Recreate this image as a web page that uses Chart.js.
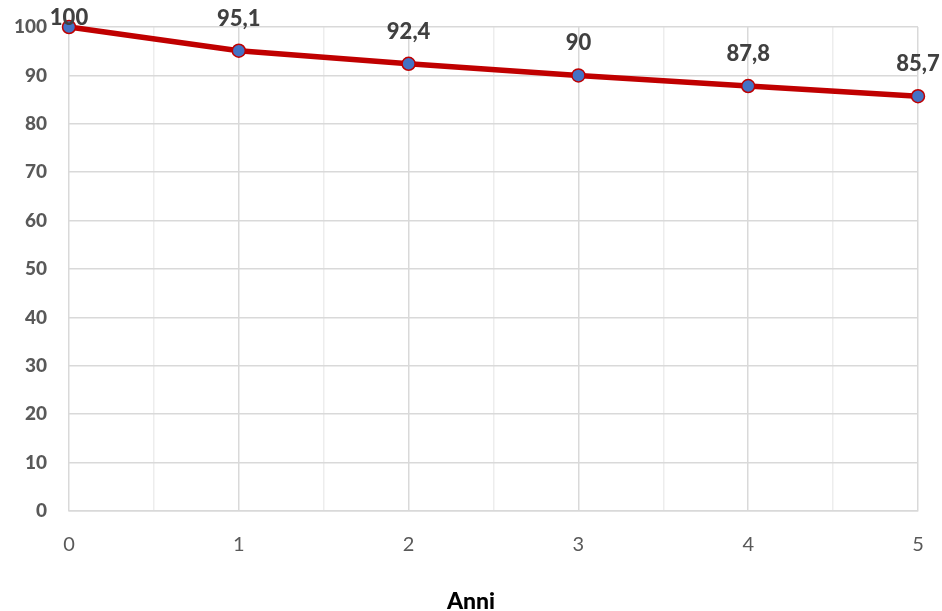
<!DOCTYPE html>
<html>
<head>
<meta charset="utf-8">
<script src="https://cdn.jsdelivr.net/npm/chart.js@4"></script>
<style>
    html, body { margin: 0; padding: 0; background: #fff; }
    #wrap { width: 942px; height: 611px; position: relative; }
</style>
</head>
<body>
<div id="wrap"><canvas id="chart"></canvas></div>
<script>
// values
const years = [0, 1, 2, 3, 4, 5];
const values = [100, 95.1, 92.4, 90, 87.8, 85.7];
const xTitle = 'Anni';

const FONT = 'Lato, "Open Sans", sans-serif';

// labels above points, Italian decimal comma
const pointLabels = {
    id: 'pointLabels',
    afterDatasetsDraw(chart) {
        const ctx = chart.ctx;
        const meta = chart.getDatasetMeta(0);
        ctx.save();
        ctx.font = '900 22px ' + FONT;
        ctx.fillStyle = '#404040';
        ctx.textAlign = 'center';
        ctx.textBaseline = 'middle';
        meta.data.forEach((pt, i) => {
            const txt = String(values[i]).replace('.', ',');
            ctx.fillText(txt, pt.x, Math.max(pt.y - 32, 18));
        });
        ctx.restore();
    }
};

// axis title centred on the whole canvas
const bottomTitle = {
    id: 'bottomTitle',
    afterDraw(chart) {
        const ctx = chart.ctx;
        ctx.save();
        ctx.font = '900 23px ' + FONT;
        ctx.fillStyle = '#000';
        ctx.textAlign = 'center';
        ctx.textBaseline = 'middle';
        ctx.fillText(xTitle, chart.width / 2, 602);
        ctx.restore();
    }
};

const ctx = document.getElementById('chart').getContext('2d');

const lineChart = new Chart(ctx, {
    type: 'line',
    data: {
        datasets: [{
            data: years.map((y, i) => ({ x: y, y: values[i] })),
            borderColor: '#c00000',
            borderWidth: 5.5,
            tension: 0,
            pointRadius: 6.5,
            pointBackgroundColor: '#4472c4',
            pointBorderColor: '#c00000',
            pointBorderWidth: 1.5,
            clip: false
        }]
    },
    options: {
        responsive: true,
        maintainAspectRatio: false,
        animation: false,
        layout: { padding: { left: 0, top: 27, right: 24, bottom: 0 } },
        plugins: {
            legend: { display: false },
            tooltip: { enabled: false }
        },
        scales: {
            x: {
                type: 'linear',
                min: 0,
                max: 5,
                afterFit: (scale) => {
                    scale.height = 100;
                    scale.paddingLeft = 0;
                    scale.paddingRight = 0;
                },
                ticks: {
                    stepSize: 0.5,
                    padding: 22,
                    color: '#595959',
                    font: { family: FONT, size: 20 },
                    maxRotation: 0,
                    autoSkip: false,
                    callback: (v) => Number.isInteger(v) ? v : ''
                },
                grid: {
                    drawTicks: false,
                    lineWidth: 1.5,
                    color: (c) => Number.isInteger(c.tick.value) ? '#d9d9d9' : '#ededed'
                },
                border: { color: '#d9d9d9', width: 1.5 }
            },
            y: {
                min: 0,
                max: 100,
                afterFit: (scale) => {
                    scale.width = 69;
                    scale.paddingTop = 0;
                    scale.paddingBottom = 0;
                },
                ticks: {
                    stepSize: 10,
                    padding: 22,
                    color: '#595959',
                    font: { family: FONT, size: 19, weight: '900' }
                },
                grid: { drawTicks: false, color: '#d9d9d9', lineWidth: 1.5 },
                border: { display: false }
            }
        }
    },
    plugins: [pointLabels, bottomTitle]
});
</script>
</body>
</html>
